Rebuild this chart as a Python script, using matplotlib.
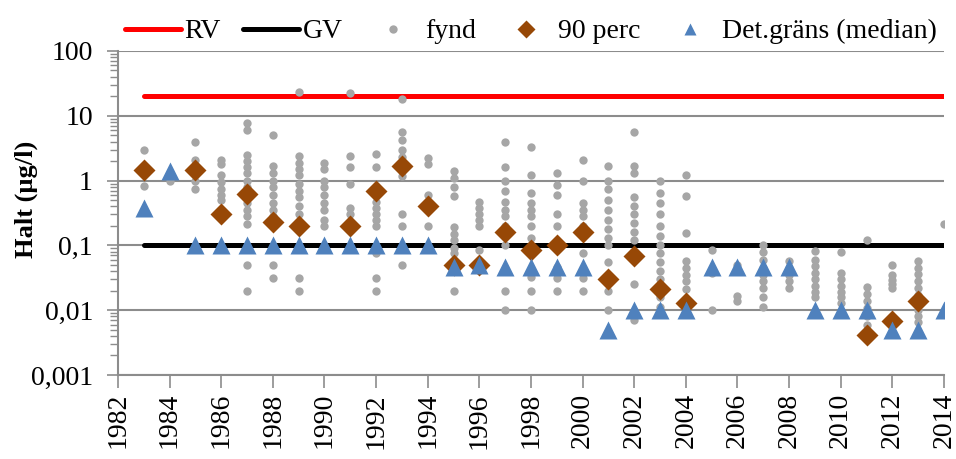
import matplotlib.pyplot as plt
import numpy as np
from matplotlib.ticker import FixedLocator, LogLocator, NullFormatter

plt.rcParams['font.family'] = ['Liberation Serif', 'DejaVu Serif']

# guide values
rv_years = [1983, 2014]
rv_values = [20, 20]
gv_years = [1983, 2014]
gv_values = [0.1, 0.1]

# single findings per year
fynd_years = list(range(1983, 2015))
fynd_values = [
    [3.0, 0.82],                                                   # 1983
    [1.0],                                                         # 1984
    [4.0, 2.1, 1.5, 1.0, 0.75],                                    # 1985
    [2.1, 1.8, 1.2, 0.95, 0.75, 0.6, 0.51],                        # 1986
    [7.8, 6.0, 2.5, 2.0, 1.6, 1.3, 1.0, 0.8, 0.6, 0.45, 0.35,
     0.28, 0.21, 0.05, 0.02],                                      # 1987
    [5.0, 1.7, 1.3, 1.0, 0.8, 0.6, 0.45, 0.35, 0.28, 0.05, 0.031],  # 1988
    [23.4, 2.4, 1.9, 1.5, 1.2, 0.9, 0.7, 0.55, 0.4, 0.3, 0.2,
     0.031, 0.02],                                                 # 1989
    [1.9, 1.5, 1.0, 0.8, 0.6, 0.45, 0.35, 0.25, 0.2],              # 1990
    [22.5, 2.4, 1.6, 0.9, 0.38, 0.3],                              # 1991
    [2.6, 1.6, 0.46, 0.38, 0.3, 0.25, 0.2, 0.077, 0.031, 0.02],    # 1992
    [18.0, 5.6, 4.3, 3.0, 2.3, 1.9, 1.4, 1.16, 0.3, 0.2, 0.05],    # 1993
    [2.2, 1.8, 0.6, 0.2],                                          # 1994
    [1.4, 1.1, 0.8, 0.57, 0.19, 0.15, 0.12, 0.09, 0.077, 0.02],    # 1995
    [0.46, 0.38, 0.3, 0.25, 0.2, 0.085],                           # 1996
    [4.0, 1.6, 1.0, 0.7, 0.46, 0.35, 0.28, 0.2, 0.1, 0.02, 0.01],  # 1997
    [3.3, 1.2, 0.65, 0.45, 0.35, 0.28, 0.2, 0.13, 0.085, 0.033,
     0.02, 0.01],                                                  # 1998
    [1.3, 0.85, 0.6, 0.3, 0.2, 0.09, 0.047, 0.031, 0.02],          # 1999
    [2.1, 0.97, 0.45, 0.35, 0.28, 0.2, 0.077, 0.031, 0.02],        # 2000
    [1.7, 1.0, 0.75, 0.5, 0.35, 0.25, 0.18, 0.13, 0.1, 0.055,
     0.02, 0.01],                                                  # 2001
    [5.7, 1.7, 1.3, 0.55, 0.4, 0.3, 0.22, 0.16, 0.12, 0.025,
     0.007],                                                       # 2002
    [0.97, 0.64, 0.45, 0.3, 0.2, 0.14, 0.1, 0.075, 0.055, 0.04,
     0.03, 0.022, 0.016, 0.0114],                                  # 2003
    [1.2, 0.57, 0.156, 0.057, 0.045, 0.035, 0.028, 0.021],         # 2004
    [0.086, 0.038, 0.01],                                          # 2005
    [0.05, 0.0164, 0.0137],                                        # 2006
    [0.1, 0.08, 0.06, 0.045, 0.035, 0.028, 0.022, 0.016, 0.0114],  # 2007
    [0.057, 0.045, 0.035, 0.028, 0.022],                           # 2008
    [0.081, 0.06, 0.048, 0.038, 0.03, 0.024, 0.019, 0.016],        # 2009
    [0.08, 0.038, 0.03, 0.024, 0.019, 0.016, 0.0129],              # 2010
    [0.123, 0.023, 0.018, 0.014, 0.011, 0.008, 0.006],             # 2011
    [0.05, 0.035, 0.029, 0.025, 0.022],                            # 2012
    [0.057, 0.045, 0.036, 0.028, 0.022, 0.017, 0.013, 0.01,
     0.008, 0.0065],                                               # 2013
    [0.21],                                                        # 2014
]

perc_years = [1983, 1985, 1986, 1987, 1988, 1989, 1991, 1992, 1993, 1994,
              1995, 1996, 1997, 1998, 1999, 2000, 2001, 2002, 2003, 2004,
              2011, 2012, 2013]
perc_values = [1.48, 1.48, 0.31, 0.61, 0.227, 0.197, 0.2, 0.7, 1.66, 0.41,
               0.05, 0.05, 0.16, 0.084, 0.1, 0.16, 0.0305, 0.068, 0.021, 0.0129,
               0.0042, 0.0067, 0.0137]

det_years = [1983, 1984, 1985, 1986, 1987, 1988, 1989, 1990, 1991, 1992,
             1993, 1994, 1995, 1996, 1997, 1998, 1999, 2000, 2001, 2002,
             2003, 2004, 2005, 2006, 2007, 2008, 2009, 2010, 2011, 2012,
             2013, 2014]
det_values = [0.38, 1.39, 0.1, 0.1, 0.1, 0.1, 0.1, 0.1, 0.1, 0.1,
              0.1, 0.1, 0.047, 0.05, 0.047, 0.047, 0.047, 0.047, 0.005, 0.01,
              0.01, 0.01, 0.047, 0.047, 0.047, 0.047, 0.01, 0.01, 0.01, 0.005,
              0.005, 0.01]

y_ticks = [0.001, 0.01, 0.1, 1, 10, 100]
y_labels = ['0,001', '0,01', '0,1', '1', '10', '100']
x_ticks = list(range(1982, 2015, 2))

fig = plt.figure(figsize=(9.56, 4.59), dpi=100)
ax = fig.add_axes([0.1234, 0.183, 0.864, 0.706])

ax.plot(rv_years, rv_values, color='#FF0000', lw=3.6, solid_capstyle='round',
        label='RV', zorder=3)
ax.plot(gv_years, gv_values, color='black', lw=3.6, solid_capstyle='round',
        label='GV', zorder=3)

fx = [y for y, vals in zip(fynd_years, fynd_values) for _ in vals]
fy = [v for vals in fynd_values for v in vals]
ax.plot(fx, fy, 'o', color='#A6A6A6', ms=6, mec='none', label='fynd', zorder=4)
ax.plot(perc_years, perc_values, 'D', color='#974806', ms=11, mec='none',
        label='90 perc', zorder=5)
ax.plot(det_years, det_values, '^', color='#4F81BD', ms=13, mec='none',
        label='Det.gräns (median)', zorder=6)

ax.set_yscale('log')
ax.set_ylim(0.001, 100)
ax.set_xlim(1982, 2014)
ax.yaxis.set_major_locator(FixedLocator(y_ticks))
ax.set_yticklabels(y_labels)
ax.yaxis.set_minor_locator(LogLocator(base=10, subs=np.arange(2, 10)))
ax.yaxis.set_minor_formatter(NullFormatter())
ax.set_xticks(x_ticks)
ax.set_xticklabels([str(x) for x in x_ticks], rotation=90)

ax.grid(axis='y', which='major', color='#8C8C8C', lw=1.5)
ax.set_axisbelow(True)
for side in ['top', 'right']:
    ax.spines[side].set_visible(False)
for side in ['left', 'bottom']:
    ax.spines[side].set_color('#8C8C8C')
    ax.spines[side].set_linewidth(1.5)
ax.tick_params(axis='both', which='major', labelsize=20, color='#8C8C8C',
               width=1.2, direction='out')
ax.tick_params(axis='x', which='major', length=9, pad=4)
ax.tick_params(axis='y', which='major', length=8, pad=10)
ax.tick_params(axis='y', which='minor', color='#8C8C8C', width=1, length=6,
               direction='out')

ax.set_ylabel('Halt (µg/l)', fontsize=19, fontweight='bold')
ax.yaxis.set_label_coords(-0.097, 0.543)

leg = ax.legend(loc='center', bbox_to_anchor=(0.5, 1.06), ncol=5, frameon=False,
                fontsize=20, handlelength=2.0, handletextpad=0.15,
                columnspacing=0.8, borderaxespad=0.0, borderpad=0.0)
# legend symbols are a bit smaller than in the plot
for h in leg.legend_handles[3:]:
    h.set_markersize(9)

fig.savefig('out.png', dpi=100)
